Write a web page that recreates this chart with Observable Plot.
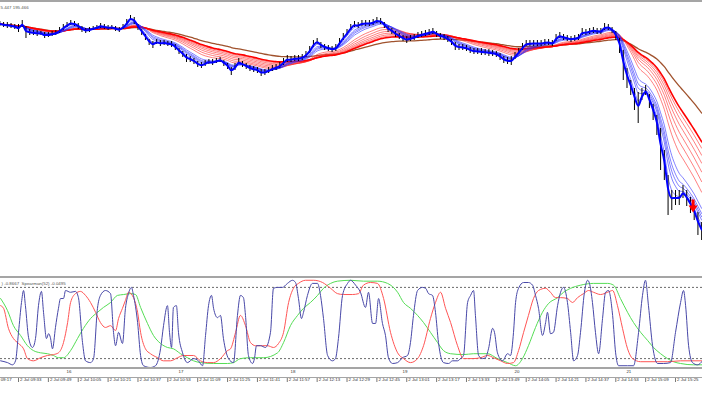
<!DOCTYPE html>
<html><head><meta charset="utf-8">
<script src="https://cdn.jsdelivr.net/npm/d3@7"></script>
<script src="https://cdn.jsdelivr.net/npm/@observablehq/plot@0.6"></script>
<style>
html,body{margin:0;padding:0;background:#fff;}
#wrap{position:relative;width:702px;height:395px;overflow:hidden;background:#fff;}
#main{position:absolute;left:0;top:0;}
#lower{position:absolute;left:0;top:276px;}
.hl{position:absolute;left:0;width:702px;background:#a5a5a5;}
</style></head><body>
<div id="wrap">
 <div id="main"></div>
 <div id="lower"></div>
 <div class="hl" style="top:0;height:2px"></div>
 <div class="hl" style="top:276px;height:2px"></div>
 <div class="hl" style="top:367px;height:2px"></div>
 <div class="hl" style="top:377px;height:1px"></div>
</div>
<script>
// ---- price bars (2-minute bars, times in minutes after 09:00) ----
const barStartMinute = 23;   // 09:23
const barStepMinutes = 2;
const barHigh = [
195.895,195.890,195.890,195.885,195.880,195.880,195.900,195.870,195.855,195.850,
195.850,195.845,195.840,195.840,195.845,195.850,195.865,195.880,195.890,195.900,
195.895,195.885,195.870,195.860,195.865,195.870,195.875,195.885,195.880,195.875,
195.875,195.870,195.865,195.880,195.905,195.925,195.915,195.880,195.855,195.830,
195.805,195.795,195.805,195.800,195.800,195.795,195.795,195.780,195.760,195.745,
195.730,195.720,195.710,195.695,195.690,195.700,195.705,195.705,195.710,195.715,
195.700,195.685,195.665,195.685,195.710,195.695,195.685,195.675,195.670,195.665,
195.655,195.655,195.665,195.675,195.680,195.690,195.710,195.725,195.720,195.725,
195.725,195.730,195.745,195.770,195.800,195.810,195.790,195.780,195.775,195.770,
195.780,195.810,195.835,195.855,195.880,195.895,195.890,195.900,195.900,195.900,
195.905,195.915,195.910,195.890,195.870,195.860,195.845,195.835,195.825,195.820,
195.825,195.830,195.840,195.845,195.850,195.855,195.860,195.845,195.835,195.830,
195.820,195.805,195.790,195.780,195.780,195.775,195.765,195.760,195.760,195.760,
195.755,195.755,195.750,195.745,195.735,195.720,195.715,195.720,195.740,195.760,
195.785,195.800,195.800,195.800,195.800,195.800,195.805,195.805,195.800,195.830,
195.840,195.830,195.825,195.820,195.825,195.830,195.860,195.855,195.860,195.865,
195.860,195.860,195.885,195.880,195.865,195.845,195.810,195.750,195.660,195.600,
195.560,195.540,195.560,195.575,195.530,195.480,195.425,195.360,195.250,195.125,
195.050,195.050,195.050,195.075,195.050,195.015,194.975,194.940,194.890];
const barLow = [
195.870,195.865,195.860,195.860,195.855,195.840,195.865,195.810,195.825,195.825,
195.820,195.825,195.810,195.815,195.820,195.825,195.835,195.850,195.865,195.875,
195.870,195.855,195.840,195.835,195.840,195.850,195.855,195.860,195.855,195.850,
195.855,195.845,195.840,195.855,195.875,195.900,195.880,195.850,195.825,195.800,
195.775,195.760,195.780,195.770,195.775,195.770,195.765,195.750,195.730,195.715,
195.690,195.690,195.680,195.665,195.660,195.670,195.680,195.675,195.685,195.690,
195.670,195.655,195.625,195.650,195.680,195.665,195.655,195.645,195.640,195.635,
195.620,195.625,195.635,195.645,195.650,195.660,195.675,195.690,195.690,195.695,
195.695,195.700,195.715,195.735,195.765,195.780,195.760,195.750,195.745,195.740,
195.745,195.775,195.800,195.825,195.850,195.865,195.860,195.870,195.870,195.870,
195.875,195.885,195.880,195.860,195.840,195.830,195.815,195.805,195.795,195.785,
195.795,195.800,195.810,195.815,195.820,195.825,195.830,195.815,195.805,195.800,
195.790,195.775,195.750,195.750,195.750,195.745,195.735,195.730,195.730,195.725,
195.725,195.720,195.720,195.715,195.700,195.685,195.680,195.675,195.705,195.730,
195.750,195.770,195.770,195.770,195.770,195.770,195.775,195.775,195.770,195.795,
195.810,195.800,195.795,195.790,195.795,195.800,195.825,195.825,195.830,195.835,
195.830,195.830,195.850,195.850,195.835,195.800,195.735,195.600,195.560,195.525,
195.450,195.385,195.500,195.525,195.460,195.400,195.325,195.150,195.100,194.925,
194.950,194.975,194.975,195.010,194.970,194.935,194.900,194.825,194.800];

// moving-average ribbon periods (in 2-minute bars)
const fastThickPeriod = 1.5;
const fastRibbonPeriods = [2.5, 4, 5, 6, 7.5];
const slowRibbonPeriods = [12, 15, 18, 21, 24, 27];
const slowThickPeriod = 30;
const trendPeriod = 50;

// sell signal
const signals = [{time: 394.4, price: 194.94}];
const priceHeader = "5.447 195.466";

// ---- Spearman indicator: [minutes after 09:00, value] ----
const spearmanFast = [[23.4,-0.85],[27.1,-0.89],[29.8,-0.94],[31.4,-0.85],[33.0,-0.21],[34.6,0.46],[35.7,0.73],[36.7,0.39],[38.4,-0.33],[40.5,-0.55],[42.1,-0.35],[43.7,0.39],[45.3,0.71],[46.4,0.24],[48.0,-0.35],[49.1,-0.24],[50.1,-0.33],[51.2,-0.58],[52.8,-0.10],[54.4,0.33],[55.5,0.55],[57.1,0.55],[58.2,0.73],[60.9,0.69],[63.5,0.71],[65.1,0.57],[67.3,-0.44],[68.9,-0.85],[71.6,-0.89],[73.2,-0.80],[75.3,0.33],[76.9,0.62],[79.6,0.73],[82.3,0.66],[83.9,-0.21],[85.0,-0.51],[86.6,-0.21],[88.7,-0.46],[90.3,0.33],[91.9,0.66],[93.5,0.80],[94.6,0.62],[96.8,0.01],[98.4,-0.73],[100.0,-0.96],[103.7,-1.0],[106.4,-0.96],[109.1,-0.58],[110.7,-0.06],[112.8,0.39],[113.9,-0.21],[115.0,-0.55],[116.0,0.35],[117.6,0.39],[118.7,-0.21],[120.9,-0.67],[123.5,-0.89],[126.8,-0.80],[129.4,-0.85],[131.6,-0.96],[133.2,-0.28],[134.8,0.39],[136.4,0.62],[137.5,0.33],[139.6,0.12],[141.2,0.17],[142.8,-0.35],[145.5,-0.80],[148.2,-0.89],[150.3,0.17],[151.9,0.62],[153.5,0.57],[154.6,0.17],[156.2,-0.73],[158.4,-0.91],[159.4,-0.80],[160.5,-0.51],[162.7,-0.51],[165.3,-0.55],[168.0,-0.21],[169.6,0.78],[171.8,0.80],[174.4,0.80],[177.1,0.89],[179.8,0.96],[181.4,0.91],[183.0,0.55],[184.6,0.10],[185.7,0.24],[187.8,0.62],[190.5,0.89],[193.2,0.89],[194.8,0.62],[196.4,0.10],[198.6,-0.73],[201.2,-0.85],[202.8,-0.80],[204.4,-0.35],[206.6,0.62],[209.3,0.89],[210.9,0.96],[213.6,0.85],[216.2,0.69],[218.9,0.35],[220.5,0.69],[222.7,-0.01],[224.3,-0.01],[225.9,0.55],[228.0,-0.01],[229.6,-0.28],[231.2,-0.78],[233.4,-0.91],[236.1,-0.89],[238.7,-0.78],[241.4,-0.73],[243.0,-0.44],[244.6,0.17],[246.8,0.73],[249.4,0.80],[251.1,0.78],[252.7,0.66],[254.8,0.62],[256.4,0.24],[258.0,-0.44],[260.7,-0.89],[263.4,-0.91],[265.5,-0.85],[268.2,-0.85],[269.8,-0.80],[271.4,-0.73],[273.6,0.46],[275.2,0.62],[276.8,0.73],[277.8,0.17],[279.5,-0.73],[281.6,-0.80],[283.2,-0.78],[284.8,-0.58],[287.0,-0.12],[288.0,-0.21],[289.6,-0.67],[292.3,-0.85],[295.0,-0.69],[296.6,-0.73],[298.2,-0.21],[299.3,0.46],[300.9,0.78],[303.6,0.91],[306.2,0.91],[308.4,0.85],[310.0,0.62],[311.6,0.33],[313.7,-0.28],[315.4,0.01],[316.4,0.24],[318.0,-0.24],[319.6,-0.21],[321.8,0.39],[323.4,0.69],[325.0,0.80],[327.1,0.46],[328.8,-0.21],[330.4,-0.85],[332.5,-0.73],[334.1,-0.21],[336.2,0.69],[337.9,0.96],[338.9,0.89],[340.5,0.46],[342.1,-0.21],[343.8,-0.69],[345.9,0.10],[347.5,0.69],[349.1,0.73],[351.3,0.17],[352.9,-0.67],[354.5,-0.96],[359.3,-0.96],[362.5,-0.96],[365.2,-0.21],[367.3,0.62],[368.9,0.96],[370.5,0.39],[372.7,-0.51],[375.4,-0.91],[378.6,-0.91],[382.3,-0.89],[385.0,-0.21],[387.7,0.46],[389.3,0.73],[390.4,0.39],[392.0,-0.51],[394.1,-0.89],[396.8,-0.94],[399.5,-0.85]];
const spearmanMid = [[23.4,0.39],[25.0,0.33],[27.6,-0.12],[30.3,-0.35],[33.0,-0.46],[35.7,-0.58],[37.8,-0.80],[41.0,-0.85],[44.8,-0.78],[48.5,-0.73],[51.7,-0.71],[54.4,-0.67],[57.1,-0.44],[59.3,0.01],[60.9,0.46],[63.5,0.66],[66.2,0.71],[68.9,0.62],[71.6,0.46],[74.3,0.24],[76.9,0.01],[79.6,-0.10],[82.3,-0.06],[85.0,-0.17],[86.6,0.10],[88.7,0.33],[90.3,0.51],[91.9,0.69],[94.6,0.57],[96.8,0.24],[98.4,-0.21],[101.0,-0.58],[103.7,-0.69],[107.5,-0.78],[110.7,-0.85],[114.4,-0.85],[118.2,-0.78],[121.4,-0.73],[126.8,-0.73],[130.5,-0.85],[134.3,-0.89],[137.5,-0.89],[141.2,-0.80],[145.0,-0.62],[146.6,-0.58],[149.3,-0.21],[151.9,0.17],[154.6,-0.06],[157.3,-0.44],[160.0,-0.51],[163.7,-0.51],[166.4,-0.51],[169.6,-0.55],[172.3,-0.46],[175.0,-0.21],[177.7,0.46],[180.3,0.78],[183.0,0.89],[186.8,0.96],[191.1,0.96],[195.9,0.91],[200.2,0.78],[203.9,0.66],[207.1,0.64],[211.9,0.64],[215.2,0.66],[217.8,0.85],[221.6,0.91],[225.3,0.89],[228.6,0.55],[232.3,-0.21],[236.1,-0.67],[239.3,-0.80],[243.0,-0.89],[246.8,-0.80],[250.0,-0.51],[253.7,0.10],[256.4,0.46],[259.1,0.69],[261.8,0.33],[264.5,0.01],[268.2,-0.51],[271.4,-0.80],[273.6,-0.80],[276.8,-0.80],[280.5,-0.78],[284.3,-0.73],[287.5,-0.78],[291.3,-0.85],[295.0,-0.91],[298.2,-0.89],[300.9,-0.62],[303.6,-0.21],[306.2,0.17],[308.9,0.55],[311.6,0.73],[315.4,0.78],[318.0,0.69],[320.7,0.57],[323.4,0.57],[327.1,0.55],[329.8,0.46],[332.5,0.57],[335.7,0.66],[338.4,0.73],[341.1,0.69],[344.8,0.64],[348.6,0.69],[351.3,0.73],[353.9,0.39],[356.6,-0.12],[359.3,-0.58],[362.0,-0.80],[366.3,-0.87],[380.7,-0.87],[387.7,-0.85],[399.5,-0.85]];
const spearmanSlow = [[23.4,0.55],[27.1,0.28],[30.3,-0.06],[34.1,-0.28],[37.8,-0.51],[41.0,-0.62],[44.8,-0.67],[48.5,-0.69],[51.7,-0.73],[54.4,-0.78],[57.1,-0.78],[60.9,-0.62],[64.6,-0.35],[67.8,-0.12],[71.6,0.10],[75.3,0.24],[78.5,0.35],[82.3,0.46],[86.0,0.62],[89.3,0.64],[93.0,0.66],[95.7,0.64],[98.4,0.35],[102.1,-0.01],[105.3,-0.28],[109.1,-0.46],[112.8,-0.55],[116.0,-0.58],[119.8,-0.69],[123.5,-0.78],[126.8,-0.85],[130.5,-0.89],[137.5,-0.91],[145.0,-0.91],[148.2,-0.89],[151.9,-0.80],[157.3,-0.78],[164.3,-0.78],[171.8,-0.67],[175.0,-0.44],[178.7,-0.06],[182.5,0.17],[185.7,0.33],[189.4,0.46],[193.2,0.62],[196.4,0.78],[200.2,0.89],[203.9,0.94],[210.9,0.96],[217.8,0.94],[225.3,0.94],[230.7,0.89],[236.1,0.69],[239.3,0.46],[243.0,0.33],[246.8,0.17],[250.0,0.01],[253.7,-0.21],[257.5,-0.44],[260.7,-0.62],[264.5,-0.69],[271.4,-0.71],[276.8,-0.69],[284.3,-0.69],[289.6,-0.80],[295.0,-0.89],[299.3,-0.96],[303.0,-0.80],[306.2,-0.51],[310.0,-0.10],[313.7,0.24],[317.0,0.44],[321.8,0.57],[325.0,0.69],[328.8,0.78],[334.1,0.85],[341.1,0.89],[348.6,0.89],[351.8,0.85],[355.5,0.55],[359.3,0.24],[362.5,0.01],[366.3,-0.21],[370.0,-0.39],[373.2,-0.55],[377.0,-0.69],[380.7,-0.80],[383.9,-0.87],[387.7,-0.91],[394.7,-0.94],[399.5,-0.94]];
const spearmanLevels = [0.8, -0.8];
const indicatorHeader = ") -0.8667  Spearman(52) -0.0495";

// ---- time scale labels ----
const hourTimes = ["10:00","11:00","12:00","13:00","14:00","15:00"];
const hourLabels = ["16","17","18","19","20","21"];
const timeTickLabels = ["2 Jul 09:17","2 Jul 09:33","2 Jul 09:49","2 Jul 10:05","2 Jul 10:21","2 Jul 10:37","2 Jul 10:53","2 Jul 11:09","2 Jul 11:25","2 Jul 11:41","2 Jul 11:57","2 Jul 12:13","2 Jul 12:29","2 Jul 12:45","2 Jul 13:01","2 Jul 13:17","2 Jul 13:33","2 Jul 13:49","2 Jul 14:05","2 Jul 14:21","2 Jul 14:37","2 Jul 14:53","2 Jul 15:09","2 Jul 15:25"];

// ---- helpers ----
const minutesOf = s => { const hm = s.slice(-5).split(":").map(Number); return (hm[0] - 9) * 60 + hm[1]; };
const xDomain = [23.35, 399.45];
const font = "'Liberation Sans', Arial, sans-serif";

const bars = barHigh.map((h, i) => ({time: barStartMinute + barStepMinutes * i, high: h, low: barLow[i]}));
const medianPrice = d => (d.high + d.low) / 2;
const ema = p => values => {
  const a = 2 / (p + 1); let w = 1, sw = 0, s = 0;
  for (let j = values.length - 1; j >= 0; --j) { s += w * values[j]; sw += w; w *= 1 - a; }
  return s / sw;
};
const maLine = (p, stroke, strokeWidth) =>
  Plot.line(bars, Plot.windowY({k: Math.ceil(3 * p) + 1, anchor: "end", reduce: ema(p)},
    {x: "time", y: medianPrice, stroke, strokeWidth, curve: "monotone-x"}));

const arrowSymbol = {draw(ctx) {
  ctx.moveTo(-1.5, -13); ctx.lineTo(1.5, -13); ctx.lineTo(1.5, -7); ctx.lineTo(4.5, -7);
  ctx.lineTo(0, 0); ctx.lineTo(-4.5, -7); ctx.lineTo(-1.5, -7); ctx.closePath();
}};

const main = Plot.plot({
  width: 702, height: 276, marginTop: 0, marginRight: 0, marginBottom: 0, marginLeft: 0,
  style: {background: "transparent", overflow: "hidden", fontFamily: font},
  x: {domain: xDomain, range: [0, 702], axis: null},
  y: {domain: [194.62, 196.0], range: [276, 0], axis: null},
  marks: [
    maLine(trendPeriod, "#a0522d", 1.3),
    ...slowRibbonPeriods.map(p => maLine(p, "#ff2a2a", 0.6)),
    maLine(slowThickPeriod, "#ff0000", 1.6),
    ...fastRibbonPeriods.map(p => maLine(p, "#2a2aff", 0.6)),
    Plot.ruleX(bars, {x: "time", y1: "low", y2: "high", stroke: "#000", strokeWidth: 1}),
    maLine(fastThickPeriod, "#0000ff", 2),
    Plot.dot(signals, {x: "time", y: "price", symbol: arrowSymbol, fill: "#ff0000", stroke: "none", r: 5}),
    Plot.text([priceHeader], {text: d => d, frameAnchor: "top-left", dx: 0, dy: 5, fontSize: 4.4, fill: "#555"})
  ]
});
document.getElementById("main").appendChild(main);

const labelOf = new Map(timeTickLabels.map(s => [minutesOf(s), s]));
const tickMinutes = timeTickLabels.map(minutesOf);

const lower = Plot.plot({
  width: 702, height: 119, marginTop: 0, marginRight: 0, marginBottom: 13, marginLeft: 0,
  style: {background: "transparent", overflow: "hidden", fontFamily: font},
  x: {domain: xDomain, range: [0, 702], axis: null},
  y: {domain: [-1, 1], range: [91, 2], axis: null},
  marks: [
    Plot.ruleY(spearmanLevels, {stroke: "#444", strokeWidth: 0.8, strokeDasharray: "2,2"}),
    Plot.line(spearmanSlow, {x: d => d[0], y: d => d[1], stroke: "#55dd55", strokeWidth: 1, curve: "monotone-x"}),
    Plot.line(spearmanMid, {x: d => d[0], y: d => d[1], stroke: "#ff5555", strokeWidth: 1, curve: "monotone-x"}),
    Plot.line(spearmanFast, {x: d => d[0], y: d => d[1], stroke: "#4848a8", strokeWidth: 1, curve: "monotone-x"}),
    Plot.text([indicatorHeader], {text: d => d, frameAnchor: "top-left", dx: 1, dy: 5, fontSize: 4.4, fill: "#555"}),
    Plot.text(hourTimes, {x: minutesOf, text: (d, i) => hourLabels[i], frameAnchor: "bottom", dy: -10, fontSize: 4.4, fill: "#333"}),
    Plot.ruleX(tickMinutes, {x: d => d, insetTop: 101, stroke: "#555", strokeWidth: 0.8}),
    Plot.text(tickMinutes, {x: d => d, text: d => labelOf.get(d), frameAnchor: "bottom", dy: -1.5, dx: 1.5, textAnchor: "start", fontSize: 4.4, fill: "#333"})
  ]
});
document.getElementById("lower").appendChild(lower);
</script>
</body></html>
